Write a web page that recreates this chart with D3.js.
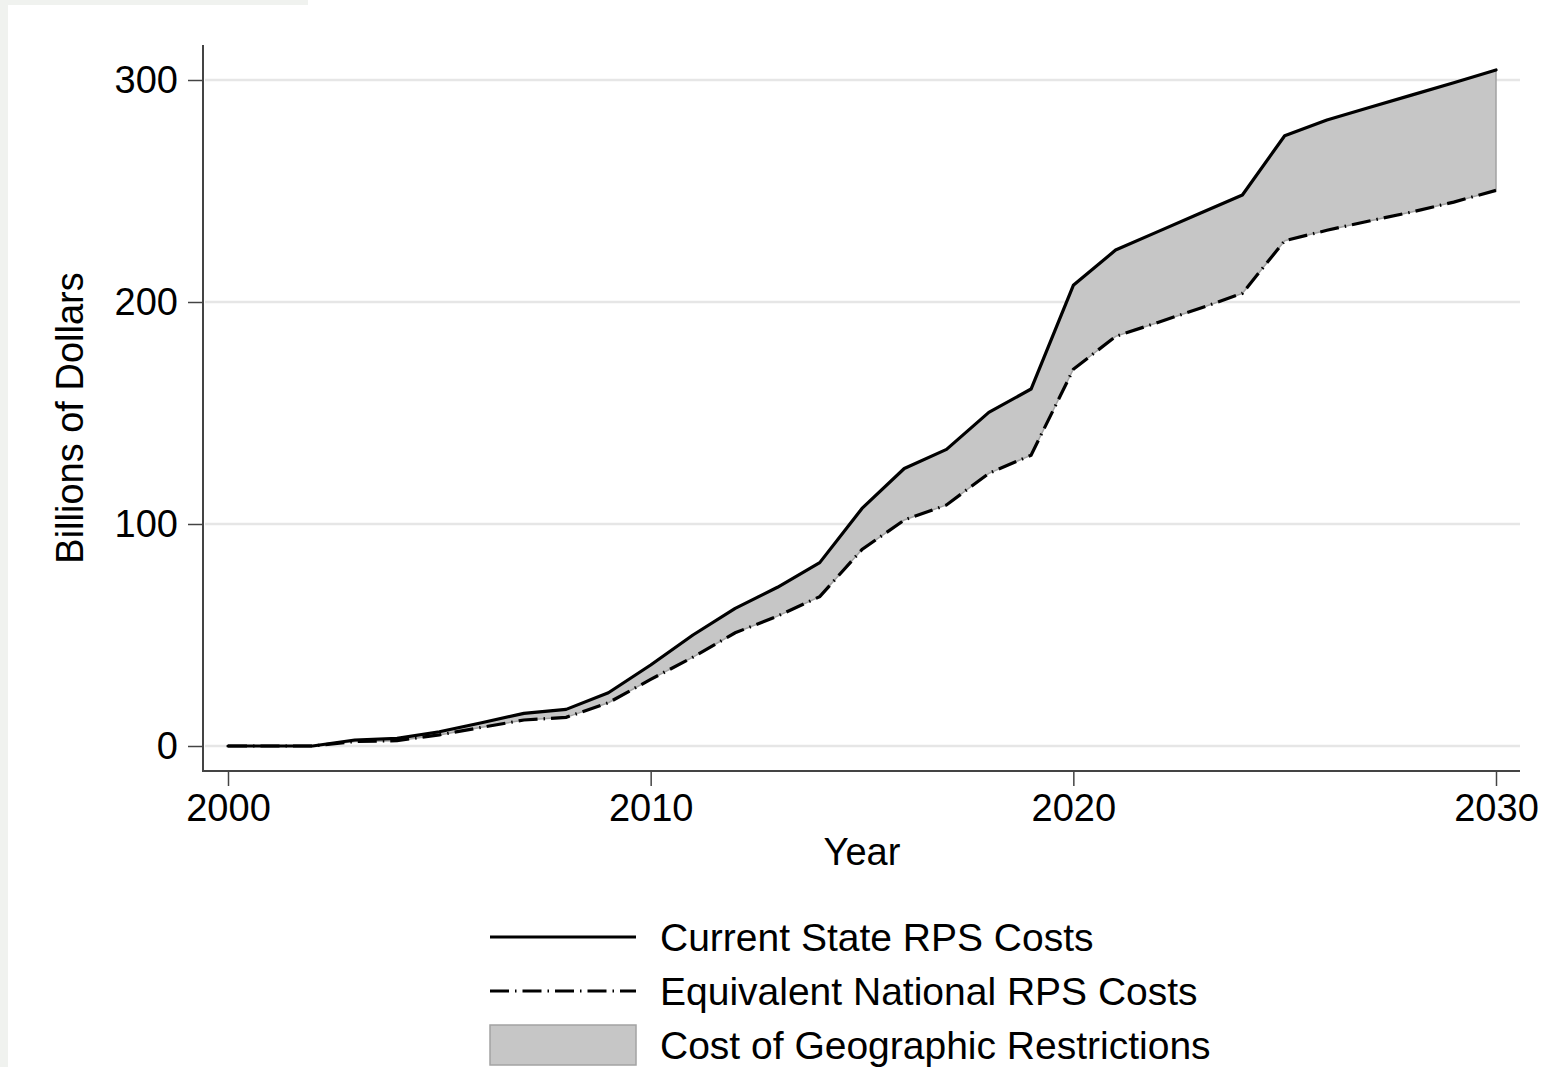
<!DOCTYPE html>
<html lang="en">
  <head>
    <meta charset="UTF-8" />
    <title>RPS Costs</title>
    <style>
      body {
        margin: 0;
        padding: 0;
        background: #ffffff;
        font-family: 'Liberation Sans', Arial, sans-serif;
      }
      svg {
        display: block;
      }
    </style>
  </head>

  <body>
    <script src="https://cdn.jsdelivr.net/npm/d3@7"></script>
    <script>
      // values (billions of dollars)
      const years = d3.range(2000, 2031);
      const currentCosts = [
        0, 0, 0, 2.7, 3.4, 6.4, 10.5, 14.7, 16.5, 24, 36.5, 50, 62, 71.5, 82.6, 107, 125, 133.6, 150.3, 160.8,
        207.5, 223.4, 231.7, 240, 248.2, 274.9, 282, 287.6, 293.2, 298.8, 304.5,
      ];
      const nationalCosts = [
        0, 0, 0, 2.0, 2.4, 5.0, 8.4, 11.7, 12.9, 19.5, 30, 40, 51, 58.5, 67.3, 88.5, 101.8, 108.6, 122.8, 131,
        169.7, 184.5, 190.8, 197.2, 203.9, 227.6, 232.3, 236.5, 240.5, 245, 250.3,
      ];
      const yTicks = [0, 100, 200, 300];
      const xTicks = [2000, 2010, 2020, 2030];
      const legendLabels = ['Current State RPS Costs', 'Equivalent National RPS Costs', 'Cost of Geographic Restrictions'];

      const width = 1547;
      const height = 1067;
      const fontSize = 38;
      const legendFont = 39;
      const dashDot = '19,6,1.5,6';

      const data = years.map((yr, i) => ({ year: yr, cur: currentCosts[i], nat: nationalCosts[i] }));

      const svg = d3.select('body').append('svg').attr('width', width).attr('height', height);

      // light frame strips at the page edge
      svg.append('rect').attr('x', 0).attr('y', 0).attr('width', 8).attr('height', height).attr('fill', '#f0f2ef');
      svg.append('rect').attr('x', 0).attr('y', 0).attr('width', 308).attr('height', 5).attr('fill', '#f0f2ef');

      const x = d3.scaleLinear().domain([2000, 2030]).range([228, 1496]);
      const y = d3.scaleLinear().domain([0, 300]).range([746, 80]);

      const axisLeft = 203;
      const axisBottom = 771;

      // gridlines
      svg
        .append('g')
        .selectAll('line')
        .data(yTicks)
        .enter()
        .append('line')
        .attr('x1', axisLeft + 2)
        .attr('x2', 1520)
        .attr('y1', (d) => y(d))
        .attr('y2', (d) => y(d))
        .attr('stroke', '#e6e6e6')
        .attr('stroke-width', 2.5);

      // shaded gap between the two series
      const area = d3
        .area()
        .x((d) => x(d.year))
        .y0((d) => y(d.nat))
        .y1((d) => y(d.cur));

      svg
        .append('path')
        .datum(data)
        .attr('d', area)
        .attr('fill', '#c6c6c6')
        .attr('stroke', '#a3a3a3')
        .attr('stroke-width', 1.5);

      const lineCur = d3
        .line()
        .x((d) => x(d.year))
        .y((d) => y(d.cur));
      const lineNat = d3
        .line()
        .x((d) => x(d.year))
        .y((d) => y(d.nat));

      svg
        .append('path')
        .datum(data)
        .attr('d', lineNat)
        .attr('fill', 'none')
        .attr('stroke', '#000')
        .attr('stroke-width', 3.2)
        .attr('stroke-dasharray', dashDot);

      svg
        .append('path')
        .datum(data)
        .attr('d', lineCur)
        .attr('fill', 'none')
        .attr('stroke', '#000')
        .attr('stroke-width', 3.2)
        .attr('stroke-linejoin', 'round')
        .attr('stroke-linecap', 'round');

      // axes
      const axisColor = '#444';
      const yAxis = d3.axisLeft(y).tickValues(yTicks).tickSize(15).tickPadding(10);
      const gy = svg.append('g').attr('transform', `translate(${axisLeft},0)`).call(yAxis);
      gy.select('.domain').remove();
      svg
        .append('line')
        .attr('x1', axisLeft)
        .attr('x2', axisLeft)
        .attr('y1', 45)
        .attr('y2', axisBottom + 1)
        .attr('stroke', axisColor)
        .attr('stroke-width', 2);

      const xAxis = d3.axisBottom(x).tickValues(xTicks).tickFormat(d3.format('d')).tickSize(15).tickPadding(8);
      const gx = svg.append('g').attr('transform', `translate(0,${axisBottom})`).call(xAxis);
      gx.select('.domain').remove();
      svg
        .append('line')
        .attr('x1', axisLeft - 1)
        .attr('x2', 1520)
        .attr('y1', axisBottom)
        .attr('y2', axisBottom)
        .attr('stroke', axisColor)
        .attr('stroke-width', 2);

      [gx, gy].forEach((g) => {
        g.selectAll('.tick line').attr('stroke', axisColor).attr('stroke-width', 1.5);
        g.selectAll('.tick text')
          .attr('fill', '#000')
          .style('font-family', "'Liberation Sans', Arial, sans-serif")
          .style('font-size', fontSize + 'px');
      });

      // axis titles
      svg
        .append('text')
        .attr('x', 862)
        .attr('y', 865)
        .attr('text-anchor', 'middle')
        .style('font-size', fontSize + 'px')
        .text('Year');

      svg
        .append('text')
        .attr('transform', 'translate(83,418) rotate(-90)')
        .attr('text-anchor', 'middle')
        .style('font-size', fontSize + 'px')
        .text('Billions of Dollars');

      // legend
      const legendRows = [937, 991, 1045];
      const legend = svg.append('g');

      legend
        .append('line')
        .attr('x1', 490)
        .attr('x2', 636)
        .attr('y1', legendRows[0])
        .attr('y2', legendRows[0])
        .attr('stroke', '#000')
        .attr('stroke-width', 3);

      legend
        .append('line')
        .attr('x1', 490)
        .attr('x2', 636)
        .attr('y1', legendRows[1])
        .attr('y2', legendRows[1])
        .attr('stroke', '#000')
        .attr('stroke-width', 3)
        .attr('stroke-dasharray', dashDot);

      legend
        .append('rect')
        .attr('x', 490)
        .attr('y', legendRows[2] - 20)
        .attr('width', 146)
        .attr('height', 40)
        .attr('fill', '#c6c6c6')
        .attr('stroke', '#a3a3a3')
        .attr('stroke-width', 1.5);

      legend
        .selectAll('text')
        .data(legendLabels)
        .enter()
        .append('text')
        .attr('x', 660)
        .attr('y', (d, i) => legendRows[i])
        .attr('dy', '0.35em')
        .style('font-size', legendFont + 'px')
        .text((d) => d);
    </script>
  </body>
</html>
